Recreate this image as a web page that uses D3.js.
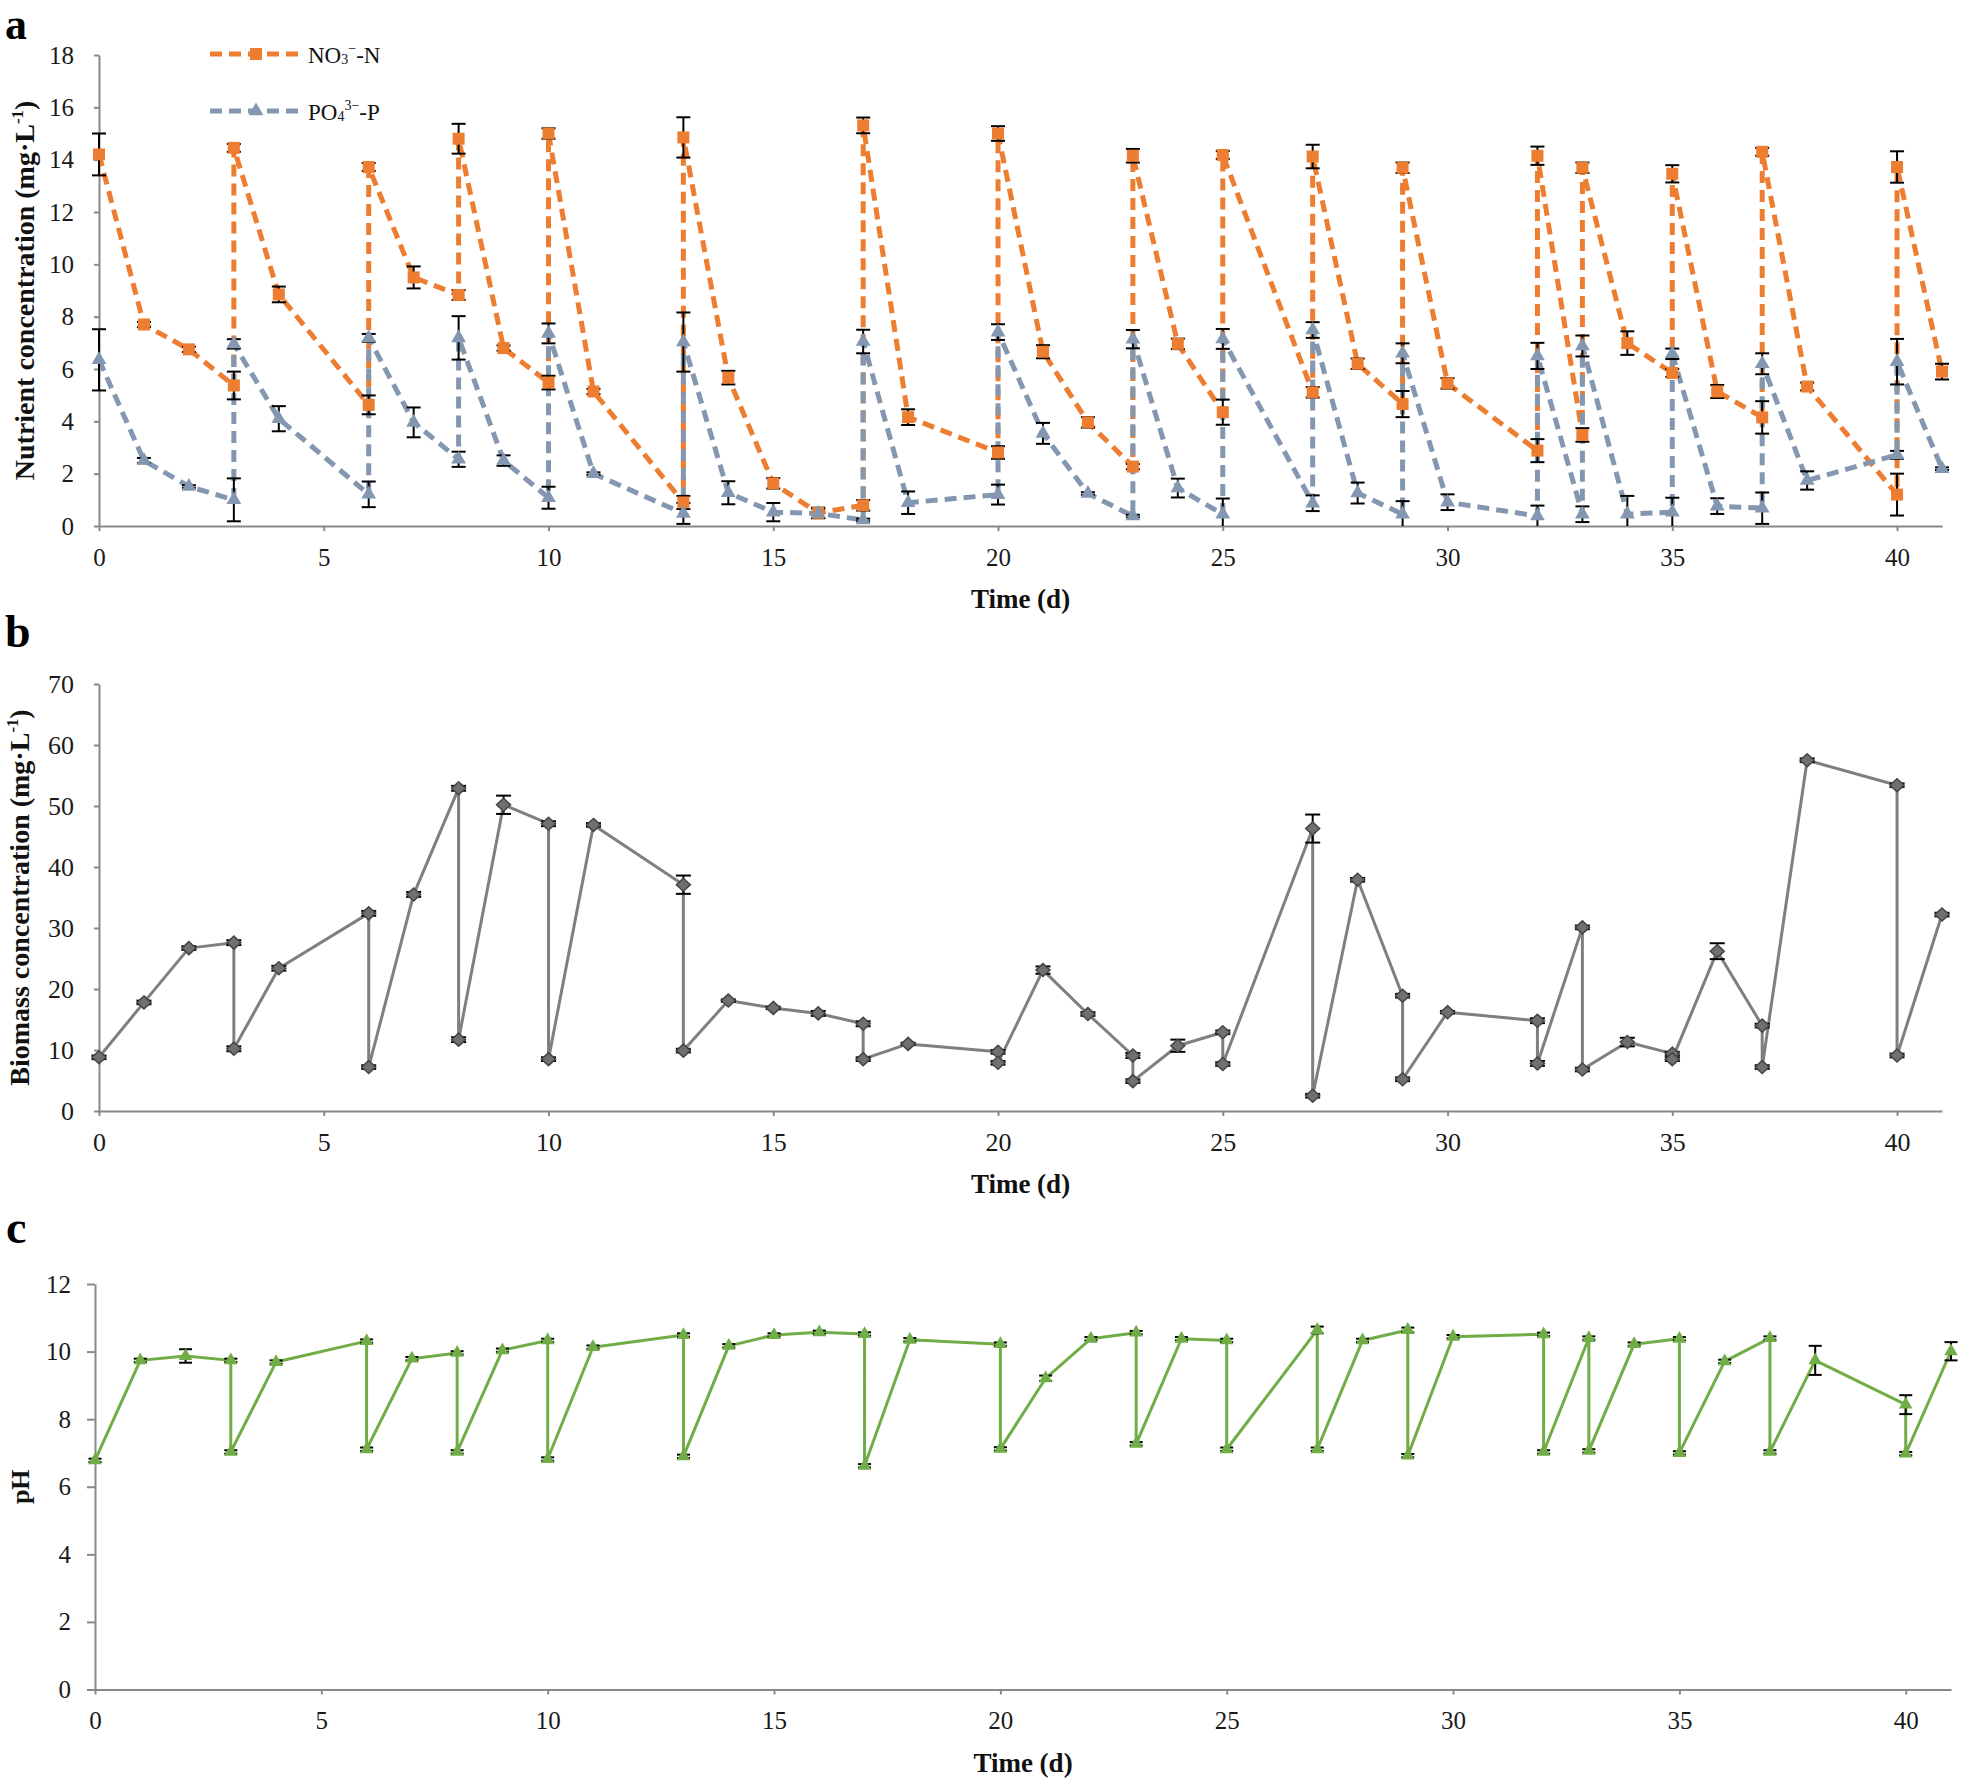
<!DOCTYPE html>
<html><head><meta charset="utf-8">
<script src="https://cdn.jsdelivr.net/npm/d3@7"></script>
<style>
body{margin:0;background:#fff}
text{font-family:"Liberation Serif","Times New Roman",serif}
</style>
</head><body><svg id="chart" width="1961" height="1784"></svg>
<script>
// ---------- data ----------
const days = [0,1,2,3,3,4,6,6,7,8, 8,9,10,10,11,13,13,14,15,16, 17,17,18,20,20,21,22,23,23,24, 25,25,27,27,28,29,29,30,32,32, 33,33,34,35,35,36,37,37,38,40, 40,41];

const nitrate = [14.2,7.7,6.75,5.37,14.45,8.85,4.63,13.72,9.5,8.83, 14.8,6.8,5.48,15.0,5.14,0.9,14.85,5.67,1.63,0.5, 0.79,15.31,4.16,2.81,15.0,6.66,3.96,2.27,14.15,6.96, 4.35,14.18,5.11,14.12,6.2,4.66,13.69,5.45,2.88,14.15, 3.48,13.69,6.99,5.85,13.46,5.14,4.15,14.3,5.33,1.2, 13.72,5.9];
const nitrateErr = [0.8,0.1,0.1,0.53,0.15,0.3,0.36,0.15,0.42,0.19, 0.57,0.1,0.26,0.2,0.1,0.25,0.77,0.26,0.2,0.2, 0.2,0.3,0.3,0.24,0.28,0.25,0.2,0.1,0.26,0.2, 0.48,0.15,0.2,0.45,0.2,0.5,0.2,0.2,0.44,0.35, 0.26,0.2,0.45,0.15,0.33,0.25,0.62,0.15,0.15,0.8, 0.6,0.3];

const phosphate = [6.35,2.5,1.51,1.0,6.96,4.1,1.21,7.19,3.96,2.55, 7.19,2.5,1.08,7.36,2.0,0.48,7.03,1.27,0.53,0.48, 0.23,7.05,0.89,1.2,7.41,3.54,1.24,0.38,7.14,1.45, 0.45,7.15,0.87,7.49,1.26,0.45,6.6,0.91,0.38,6.5, 0.45,6.88,0.45,0.53,6.58,0.76,0.68,6.2,1.74,2.72, 6.28,2.19];
const phosphateErr = [1.17,0.1,0.05,0.82,0.18,0.48,0.49,0.15,0.57,0.29, 0.83,0.2,0.42,0.38,0.05,0.4,1.13,0.44,0.35,0.18, 0.05,0.45,0.43,0.38,0.3,0.4,0.05,0.05,0.35,0.36, 0.6,0.38,0.3,0.3,0.4,0.5,0.38,0.3,0.4,0.5, 0.3,0.4,0.7,0.55,0.2,0.3,0.6,0.4,0.35,0.15, 0.87,0.05];

const biomass = [8.8,17.8,26.7,27.6,10.2,23.4,32.4,7.2,35.5,52.9, 11.7,50.2,47.1,8.5,46.9,37.1,9.9,18.1,16.9,16.0, 14.3,8.5,11.0,9.7,7.9,23.1,15.9,9.1,4.9,10.7, 12.9,7.7,46.3,2.5,37.9,18.9,5.2,16.2,14.8,7.8, 30.1,6.8,11.3,9.4,8.5,26.2,14.0,7.2,57.5,53.4, 9.1,32.2];
const biomassErr = [0.3,0.3,0.3,0.4,0.4,0.4,0.4,0.3,0.4,0.4, 0.4,1.5,0.4,0.3,0.3,1.5,0.3,0.2,0.2,0.4, 0.4,0.3,0.2,0.3,0.3,0.6,0.3,0.4,0.3,1.0, 0.3,0.3,2.3,0.3,0.3,0.3,0.3,0.2,0.4,0.4, 0.3,0.3,0.7,0.3,0.3,1.3,0.3,0.3,0.3,0.3, 0.3,0.3];

const ph = [6.78,9.74,9.87,9.74,7.03,9.69,10.31,7.11,9.79,9.96, 7.03,10.04,10.33,6.82,10.13,10.49,6.9,10.17,10.49,10.57, 10.52,6.62,10.35,10.22,7.12,9.21,10.38,10.56,7.27,10.38, 10.33,7.11,10.64,7.11,10.33,10.64,6.92,10.44,10.51,7.03, 10.4,7.06,10.22,10.38,7.0,9.71,10.4,7.03,9.74,8.43, 6.98,10.01];
const phErr = [0.05,0.05,0.2,0.05,0.05,0.05,0.05,0.05,0.05,0.05, 0.05,0.05,0.05,0.05,0.05,0.05,0.05,0.05,0.05,0.05, 0.05,0.05,0.05,0.05,0.05,0.08,0.05,0.05,0.05,0.05, 0.05,0.05,0.1,0.05,0.05,0.07,0.05,0.05,0.05,0.05, 0.05,0.05,0.05,0.05,0.05,0.05,0.05,0.05,0.43,0.28, 0.05,0.27];

const xTicks = [0,5,10,15,20,25,30,35,40];
const nutrientTicks = [0,2,4,6,8,10,12,14,16,18];
const biomassTicks = [0,10,20,30,40,50,60,70];
const phTicks = [0,2,4,6,8,10,12];

// ---------- drawing ----------
const svg = d3.select('#chart');
svg.append('rect').attr('width',1961).attr('height',1784).attr('fill','#fff');

const axisColor = '#898989';

function makePanel(p) {
  const x = d3.scaleLinear().domain([0,41]).range([p.left, p.right]);
  const y = d3.scaleLinear().domain([0,p.yMax]).range([p.bottom, p.top]);
  const g = svg.append('g');

  const ya = g.append('g').attr('transform',`translate(${p.left},0)`)
    .call(d3.axisLeft(y).tickValues(p.yTicks).tickSize(p.yTick).tickSizeOuter(0).tickPadding(p.yPad));
  const xa = g.append('g').attr('transform',`translate(0,${p.bottom})`)
    .call(d3.axisBottom(x).tickValues(xTicks).tickSize(5).tickSizeOuter(0).tickPadding(17));
  [ya,xa].forEach(a=>{
    a.select('.domain').attr('stroke',axisColor).attr('stroke-width',2);
    a.selectAll('.tick line').attr('stroke',axisColor).attr('stroke-width',2);
    a.selectAll('.tick text').attr('font-size',p.tickFont).attr('fill','#1a1a1a')
      .attr('font-family','"Liberation Serif","Times New Roman",serif');
  });

  // x title
  g.append('text').attr('x',(p.left+p.right)/2).attr('y',p.bottom+82)
    .attr('text-anchor','middle').attr('font-size',27).attr('font-weight','bold')
    .attr('fill','#111').text('Time (d)');

  // y title
  const yt = g.append('text')
    .attr('transform',`translate(${p.yLabelX},${(p.top+p.bottom)/2}) rotate(-90)`)
    .attr('text-anchor','middle').attr('font-size',p.yLabelFont).attr('font-weight','bold').attr('fill','#111');
  if (p.unit) {
    yt.append('tspan').text(p.yLabel + ' (mg·L');
    yt.append('tspan').attr('font-size',p.yLabelFont*0.6).attr('dy',-p.yLabelFont*0.38).text('-1');
    yt.append('tspan').attr('dy',p.yLabelFont*0.38).text(')');
  } else {
    yt.text(p.yLabel);
  }

  // panel letter
  g.append('text').attr('x',p.letterX).attr('y',p.letterY).attr('font-size',p.letterFont)
    .attr('font-weight','bold').attr('fill','#000').text(p.letter);

  return {g,x,y};
}

function drawSeries(P, vals, style) {
  const pts = days.map((d,i)=>({d, v: vals[i]}));
  const line = d3.line().x(d=>P.x(d.d)).y(d=>P.y(d.v));
  const path = P.g.append('path').datum(pts).attr('d',line).attr('fill','none')
    .attr('stroke',style.color).attr('stroke-width',style.width).attr('stroke-linejoin','round');
  if (style.dash) path.attr('stroke-dasharray',style.dash);
  return pts;
}

function drawErr(P, vals, errs, cap) {
  const eg = P.g.append('g').attr('stroke','#000').attr('stroke-width',2);
  days.forEach((d,i)=>{
    const v = vals[i], e = errs[i];
    const cx = P.x(d);
    const lo = Math.max(0, v-e), hi = v+e;
    eg.append('line').attr('x1',cx).attr('x2',cx).attr('y1',P.y(lo)).attr('y2',P.y(hi));
    eg.append('line').attr('x1',cx-cap/2).attr('x2',cx+cap/2).attr('y1',P.y(hi)).attr('y2',P.y(hi));
    if (v-e >= 0) eg.append('line').attr('x1',cx-cap/2).attr('x2',cx+cap/2).attr('y1',P.y(lo)).attr('y2',P.y(lo));
  });
}

function drawMarkers(P, vals, shape, fill, stroke, size) {
  const mg = P.g.append('g');
  days.forEach((d,i)=>{
    const cx = P.x(d), cy = P.y(vals[i]);
    if (shape==='square') {
      mg.append('rect').attr('x',cx-size/2).attr('y',cy-size/2).attr('width',size).attr('height',size).attr('fill',fill);
    } else if (shape==='triangle') {
      mg.append('path').attr('d',d3.symbol(d3.symbolTriangle).size(size)())
        .attr('transform',`translate(${cx},${cy})`).attr('fill',fill).attr('stroke',stroke||'none');
    } else if (shape==='diamond') {
      mg.append('path').attr('d',`M0,${-size*0.93} L${size},0 L0,${size*0.93} L${-size},0Z`)
        .attr('transform',`translate(${cx},${cy})`).attr('fill',fill).attr('stroke',stroke).attr('stroke-width',1.5);
    }
  });
}

// ---- Panel a ----
const A = makePanel({left:99,right:1942,top:55,bottom:526,yMax:18,yTicks:nutrientTicks,yTick:5,yPad:20,
  tickFont:25,yLabel:'Nutrient concentration',unit:true,yLabelX:34,yLabelFont:28,
  letter:'a',letterX:5,letterY:39,letterFont:44});
const orange = '#ED7D31', blueGray = '#8497B0';
drawSeries(A, nitrate, {color:orange,width:5,dash:'12,7'});
drawSeries(A, phosphate, {color:blueGray,width:5,dash:'12,7'});
drawErr(A, nitrate, nitrateErr, 14);
drawErr(A, phosphate, phosphateErr, 14);
drawMarkers(A, nitrate, 'square', orange, null, 12);
drawMarkers(A, phosphate, 'triangle', blueGray, null, 95);

// legend
const leg = A.g.append('g');
const legendItems = [
  {y:54, color:orange, shape:'square', base:'NO', sub:'3', sup:'−', tail:'-N', ty:63},
  {y:111, color:blueGray, shape:'triangle', base:'PO', sub:'4', sup:'3−', tail:'-P', ty:120}
];
legendItems.forEach(it=>{
  leg.append('line').attr('x1',210).attr('x2',300).attr('y1',it.y).attr('y2',it.y)
    .attr('stroke',it.color).attr('stroke-width',5).attr('stroke-dasharray','12,7');
  if (it.shape==='square') leg.append('rect').attr('x',250).attr('y',it.y-6).attr('width',12).attr('height',12).attr('fill',it.color);
  else leg.append('path').attr('d',d3.symbol(d3.symbolTriangle).size(95)()).attr('transform',`translate(256,${it.y})`).attr('fill',it.color);
  const t = leg.append('text').attr('x',308).attr('y',it.ty).attr('font-size',23).attr('fill','#111');
  t.append('tspan').text(it.base);
  t.append('tspan').attr('font-size',14).attr('dy',1).text(it.sub);
  t.append('tspan').attr('font-size',14).attr('dy',-11).text(it.sup);
  t.append('tspan').attr('dy',10).text(it.tail);
});

// ---- Panel b ----
const B = makePanel({left:99,right:1942,top:684,bottom:1111,yMax:70,yTicks:biomassTicks,yTick:5,yPad:20,
  tickFont:26,yLabel:'Biomass concentration',unit:true,yLabelX:29,yLabelFont:28,
  letter:'b',letterX:5,letterY:647,letterFont:46});
drawSeries(B, biomass, {color:'#7f7f7f',width:3});
drawErr(B, biomass, biomassErr, 15);
drawMarkers(B, biomass, 'diamond', '#707070', '#454545', 7);

// ---- Panel c ----
const C = makePanel({left:95,right:1951,top:1284,bottom:1689.5,yMax:12,yTicks:phTicks,yTick:8,yPad:16,
  tickFont:25,yLabel:'pH',unit:false,yLabelX:29,yLabelFont:26,
  letter:'c',letterX:6,letterY:1243,letterFont:46});
drawSeries(C, ph, {color:'#70AD47',width:3});
drawErr(C, ph, phErr, 13);
drawMarkers(C, ph, 'triangle', '#70AD47', null, 80);
</script>
</body></html>
